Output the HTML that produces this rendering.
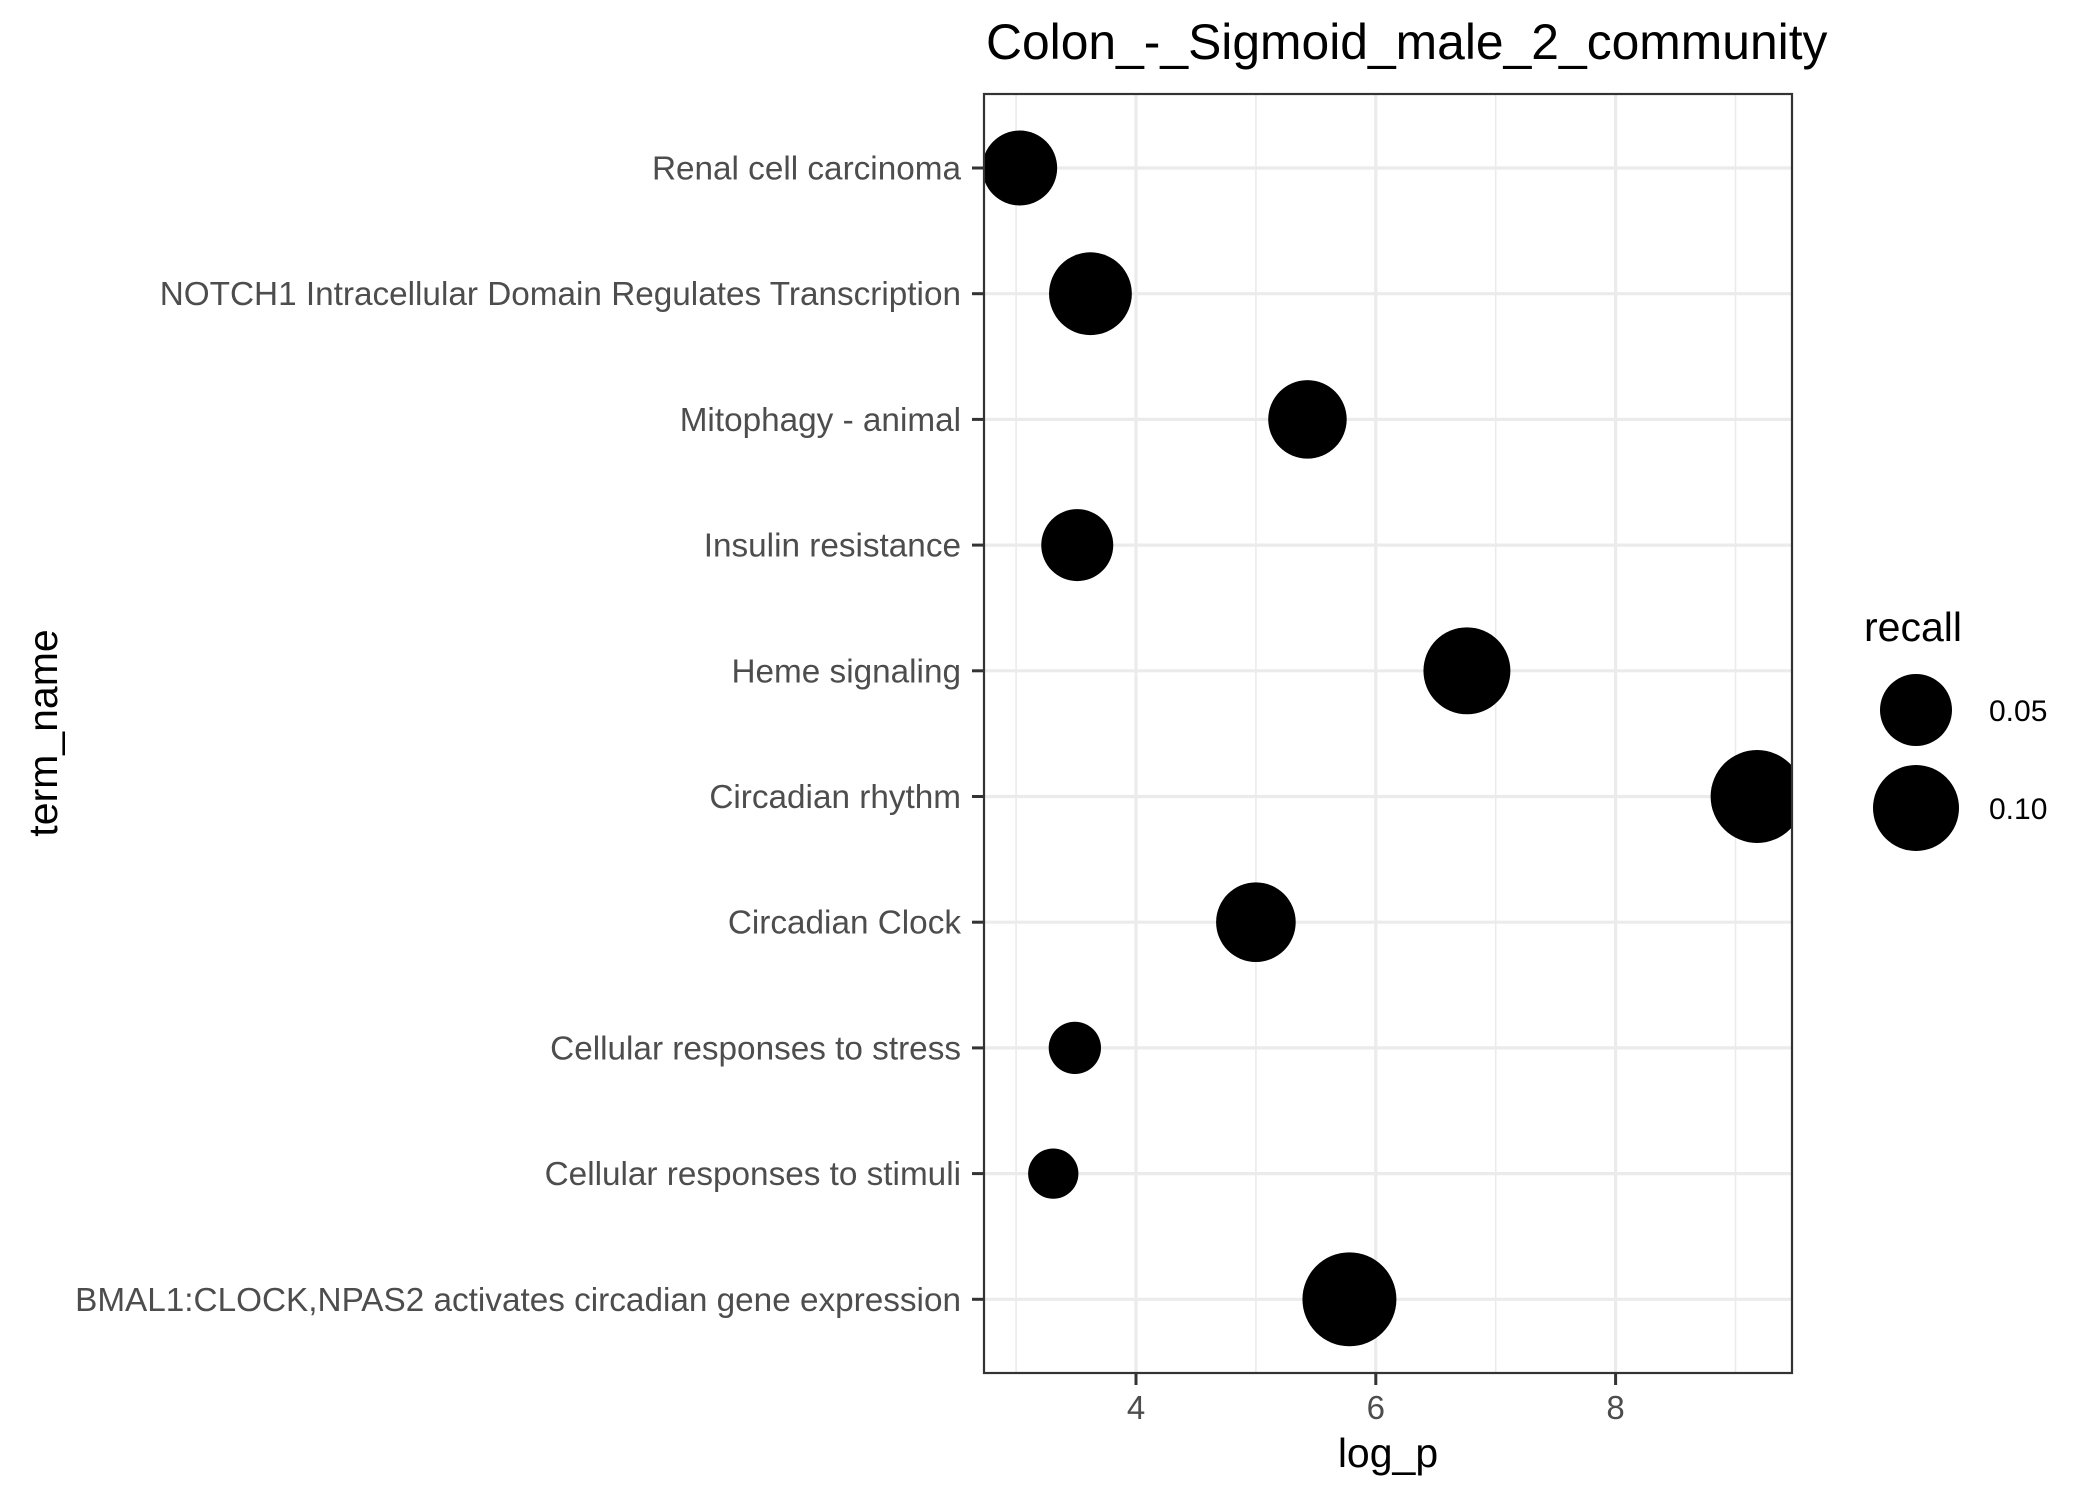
<!DOCTYPE html>
<html><head><meta charset="utf-8"><style>
html,body{margin:0;padding:0;background:#fff;}
svg{display:block;font-family:"Liberation Sans",Arial,sans-serif;}
</style></head><body>
<svg id="chart" width="2100" height="1499" viewBox="0 0 2100 1499">
<defs><clipPath id="panelclip"><rect x="984" y="94" width="808" height="1279"/></clipPath></defs>
<text x="986" y="59" font-size="49.8" fill="#000">Colon_-_Sigmoid_male_2_community</text>
<g id="grid"></g>
<g id="points" clip-path="url(#panelclip)"></g>
<rect x="984" y="94" width="808" height="1279" fill="none" stroke="#333" stroke-width="2.2"/>
<g id="yaxis"></g>
<g id="xaxis"></g>
<text x="1388" y="1467" font-size="41" text-anchor="middle" fill="#000">log_p</text>
<text transform="translate(57,733) rotate(-90)" font-size="41" text-anchor="middle" fill="#000">term_name</text>
<g id="legend">
<text x="1864" y="641" font-size="41" fill="#000">recall</text>
</g>
</svg>
<script>
const terms = ["Renal cell carcinoma","NOTCH1 Intracellular Domain Regulates Transcription","Mitophagy - animal","Insulin resistance","Heme signaling","Circadian rhythm","Circadian Clock","Cellular responses to stress","Cellular responses to stimuli","BMAL1:CLOCK,NPAS2 activates circadian gene expression"];
const logP = [3.03,3.62,5.43,3.51,6.76,9.18,5.0,3.49,3.31,5.78];
const recall = [0.059,0.087,0.071,0.050,0.104,0.131,0.075,0.0087,0.0064,0.136];
const xTicks = [4,6,8];
const xMinor = [3,5,7,9];
const legendVals = [0.05,0.10];
const legendLabels = ["0.05","0.10"];

const NS="http://www.w3.org/2000/svg";
const L=984,R=1792,T=94,B=1373;
const xScale=v=>1136+(v-4)*119.9;
const yScale=i=>168+i*125.7;
const dScale=r=>38.2+151.2*Math.sqrt(r);
function mk(tag,attrs,parent){const e=document.createElementNS(NS,tag);for(const k in attrs)e.setAttribute(k,attrs[k]);parent.appendChild(e);return e;}
const grid=document.getElementById('grid'),pts=document.getElementById('points'),ya=document.getElementById('yaxis'),xa=document.getElementById('xaxis'),lg=document.getElementById('legend');
xMinor.forEach(v=>{const e=mk('line',{x1:xScale(v),x2:xScale(v),y1:T,y2:B,stroke:'#EBEBEB','stroke-width':1.6},grid);

});
xTicks.forEach(v=>{const e=mk('line',{x1:xScale(v),x2:xScale(v),y1:T,y2:B,stroke:'#EBEBEB','stroke-width':3.2},grid);


const t=mk('line',{x1:xScale(v),x2:xScale(v),y1:B,y2:B+12,stroke:'#333','stroke-width':3},xa);


const l=mk('text',{x:xScale(v),y:1419,'font-size':33,'text-anchor':'middle',fill:'#4D4D4D'},xa);l.textContent=v;

});
terms.forEach((n,i)=>{const y=yScale(i);
const g=mk('line',{x1:L,x2:R,y1:y,y2:y,stroke:'#EBEBEB','stroke-width':3.2},grid);


const t=mk('line',{x1:L-12,x2:L,y1:y,y2:y,stroke:'#333','stroke-width':3},ya);


const l=mk('text',{x:961,y:y+11.5,'font-size':33.3,'text-anchor':'end',fill:'#4D4D4D'},ya);l.textContent=n;


const c=mk('circle',{cx:xScale(logP[i]),cy:y,r:dScale(recall[i])/2,fill:'#000'},pts);

});
legendVals.forEach((v,i)=>{const cy=[710,808][i];
const c=mk('circle',{cx:1916,cy:cy,r:dScale(v)/2,fill:'#000'},lg);


const t=mk('text',{x:1989,y:cy+11,'font-size':30,fill:'#000'},lg);t.textContent=legendLabels[i];

});
</script>
</body></html>
